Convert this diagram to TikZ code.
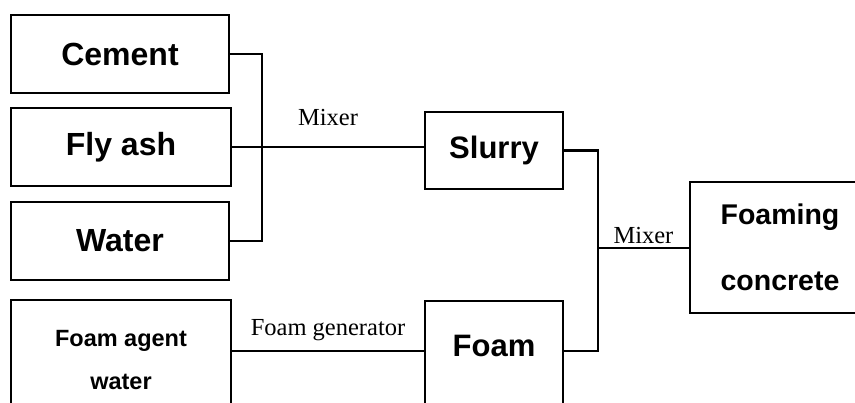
\documentclass[tikz,border=0pt]{standalone}
\usepackage{fontspec}
\setmainfont{Liberation Serif}
\setsansfont{Liberation Sans}
\usetikzlibrary{positioning}

\begin{document}
\begin{tikzpicture}[x=1pt, y=-1pt, line width=2.2pt,
  inbox/.style={draw, minimum width=218pt, minimum height=78pt, font=\sffamily\bfseries\fontsize{32}{38}\selectfont},
  midbox/.style={draw, minimum width=138pt, font=\sffamily\bfseries\fontsize{31}{38}\selectfont},
  steplabel/.style={inner sep=0pt, font=\fontsize{24.5}{28}\selectfont}]
  \useasboundingbox (0,0) rectangle (855,403);
  \clip (0,0) rectangle (855,403);

  % raw materials
  \node[inbox] (cement) at (120,54) {Cement};
  \node[inbox, minimum width=220pt] (flyash) at (121,147) {Fly ash};
  \node[inbox] (water) at (120,241) {Water};
  \node[draw, minimum width=220pt, minimum height=120pt, align=center, font=\sffamily\bfseries\fontsize{23.5}{43}\selectfont] (agent) at (121,360) {Foam agent\\water};

  % intermediate products
  \node[midbox, minimum height=77pt] (slurry) at (494,150.5) {Slurry};
  \node[midbox, anchor=north, inner ysep=0pt, text height=55pt, text depth=70pt] (foam) at (494,300) {Foam};
  \node[draw, minimum width=180pt, minimum height=131pt, align=center, font=\sffamily\bfseries\fontsize{28.5}{66}\selectfont] (concrete) at (780,247.5) {Foaming\\concrete};

  % connectors
  \coordinate (bus1) at (262,145);
  \coordinate (bus2) at (598,248);
  \coordinate (foamin) at ([yshift=5pt]foam.base west);
  \coordinate (foamout) at ([yshift=5pt]foam.base east);

  \draw (cement.east) -| (bus1) |- (water.east);
  \draw (flyash.east) -- (flyash.east -| slurry.west) node[steplabel, midway, above=20pt] {Mixer};
  \draw (foamin -| agent.east) -- (foamin) node[steplabel, midway, above=9pt] {Foam generator};
  \draw (slurry.east) -| (bus2) |- (foamout);
  \draw (bus2) -- (bus2 -| concrete.west) node[steplabel, midway, above=3pt] {Mixer};
\end{tikzpicture}
\end{document}
